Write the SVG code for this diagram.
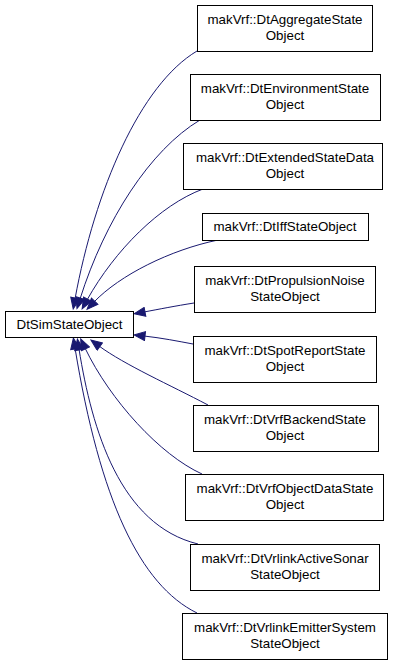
<svg xmlns="http://www.w3.org/2000/svg" width="395" height="664" viewBox="0 0 395 664">
<style>
.node rect{fill:#fff;stroke:#000;stroke-width:1}
.node text{font-family:"Liberation Sans",Arial,sans-serif;font-size:13.33px;text-anchor:middle;fill:#000}
.edges path{fill:none;stroke:#191970;stroke-width:1;marker-end:url(#arr)}
</style>
<defs>
<marker id="arr" markerUnits="userSpaceOnUse" markerWidth="14" markerHeight="10" refX="1" refY="4.5" orient="auto" viewBox="-1 -0.5 14 10">
<path d="M0,0 L11,4.5 L0,9 z" fill="#191970" stroke="#191970" stroke-width="1"/>
</marker>
</defs>
<rect width="395" height="664" fill="#fff"/>
<g class="edges">
<path d="M197,51 C140,85 95,190 75,299"/>
<path d="M200,120 C150,150 105,220 80,299"/>
<path d="M203,189 C160,205 115,250 87,300"/>
<path d="M218,240 C170,250 120,275 94,302"/>
<path d="M194,303 C175,306 160,309 144,312"/>
<path d="M193,344 C177,341 162,338 144,336"/>
<path d="M208,405 C170,385 125,365 99,346"/>
<path d="M202,474 C160,455 110,400 85,348"/>
<path d="M198,544 C120,525 92,430 79,349"/>
<path d="M197,613 C140,585 100,500 75,348"/>
</g>
<g id="n0" class="node"><rect x="5.5" y="311.5" width="128" height="26"/><text x="69.5" y="328.5">DtSimStateObject</text></g>
<g id="n1" class="node"><rect x="197.5" y="5.5" width="175" height="46"/><text x="285" y="23.5">makVrf::DtAggregateState</text><text x="285" y="39.5">Object</text></g>
<g id="n2" class="node"><rect x="190.5" y="74.5" width="190" height="46"/><text x="285" y="92.5">makVrf::DtEnvironmentState</text><text x="285" y="108.5">Object</text></g>
<g id="n3" class="node"><rect x="183.5" y="143.5" width="199" height="46"/><text x="285" y="161.5">makVrf::DtExtendedStateData</text><text x="285" y="177.5">Object</text></g>
<g id="n4" class="node"><rect x="202.5" y="213.5" width="166" height="27"/><text x="285" y="231">makVrf::DtIffStateObject</text></g>
<g id="n5" class="node"><rect x="194.5" y="266.5" width="181" height="46"/><text x="285" y="284.5">makVrf::DtPropulsionNoise</text><text x="285" y="300.5">StateObject</text></g>
<g id="n6" class="node"><rect x="193.5" y="336.5" width="183" height="46"/><text x="285" y="354.5">makVrf::DtSpotReportState</text><text x="285" y="370.5">Object</text></g>
<g id="n7" class="node"><rect x="193.5" y="405.5" width="185" height="46"/><text x="285" y="423.5">makVrf::DtVrfBackendState</text><text x="285" y="439.5">Object</text></g>
<g id="n8" class="node"><rect x="185.5" y="474.5" width="198" height="46"/><text x="285" y="492.5">makVrf::DtVrfObjectDataState</text><text x="285" y="508.5">Object</text></g>
<g id="n9" class="node"><rect x="190.5" y="544.5" width="189" height="46"/><text x="285" y="562.5">makVrf::DtVrlinkActiveSonar</text><text x="285" y="578.5">StateObject</text></g>
<g id="n10" class="node"><rect x="182.5" y="613.5" width="205" height="46"/><text x="285" y="631.5">makVrf::DtVrlinkEmitterSystem</text><text x="285" y="647.5">StateObject</text></g>
</svg>
